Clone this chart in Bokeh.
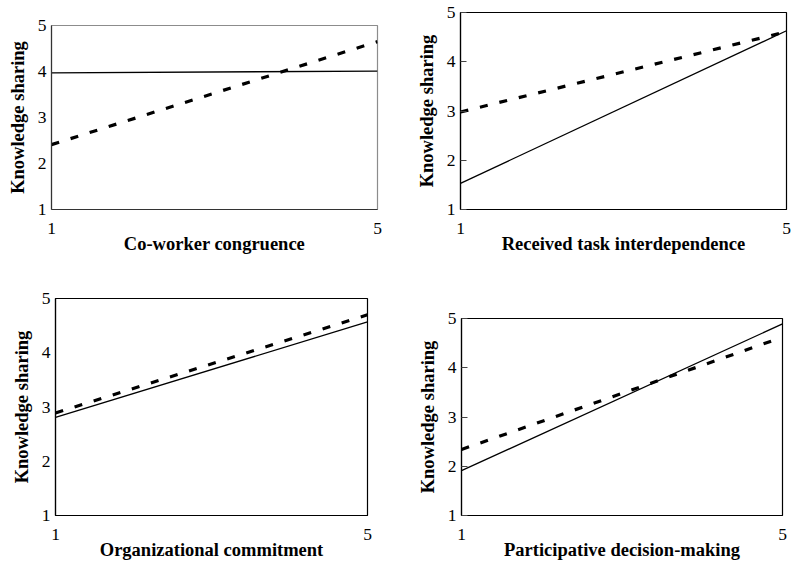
from bokeh.plotting import figure
from bokeh.models import Range1d, FixedTicker
from bokeh.layouts import column, row
from bokeh.embed import file_html
from bokeh.resources import INLINE

# ---- data ----
x_ends = [1, 5]
labels = ["Co-worker congruence", "Received task interdependence",
          "Organizational commitment", "Participative decision-making"]
solid_vals = [
    [3.97, 4.01],
    [1.53, 4.63],
    [2.81, 4.57],
    [1.91, 4.89],
]
dashed_vals = [
    [2.41, 4.65],
    [2.98, 4.61],
    [2.89, 4.70],
    [2.34, 4.62],
]
y_ticks = [1, 2, 3, 4, 5]
x_ticks = [1, 5]

FONT = "Liberation Serif"

# (width, height, left, right, top, bottom) of each panel's figure
geoms = [
    (395, 270, 51, 18, 25, 61),
    (398, 270, 65, 7, 12, 61),
    (395, 292, 55, 28, 28, 41),
    (398, 292, 66, 11, 48, 43),
]
inner_ticks = [False, True, False, True]


def make_panel(i):
    w, h, l, r, t, b = geoms[i]
    p = figure(width=w, height=h, output_backend="svg", toolbar_location=None,
               x_range=Range1d(1, 5), y_range=Range1d(1, 5),
               min_border_left=l, min_border_right=r,
               min_border_top=t, min_border_bottom=b,
               frame_align=False)
    p.grid.visible = False
    p.background_fill_color = "white"
    p.border_fill_color = "white"
    if i == 0:
        p.outline_line_color = "#8c8c8c"
        axis_col = "#333333"
    else:
        p.outline_line_color = "black"
        axis_col = "black"
    p.outline_line_width = 1.2
    p.outline_line_alpha = 1

    p.xaxis.ticker = FixedTicker(ticks=x_ticks)
    p.yaxis.ticker = FixedTicker(ticks=y_ticks)
    for ax in (p.xaxis, p.yaxis):
        ax.axis_line_color = axis_col
        ax.axis_line_width = 1.2
        ax.major_tick_line_color = None
        ax.minor_tick_line_color = None
        ax.major_tick_out = 0
        ax.major_tick_in = 0
        ax.major_label_text_font = FONT
        ax.major_label_text_font_size = "17.5px"
        ax.major_label_text_color = "black"
        ax.axis_label_text_font = FONT
        ax.axis_label_text_font_style = "bold"
        ax.axis_label_text_font_size = "18.5px"
        ax.axis_label_text_color = "black"
    if inner_ticks[i]:
        p.yaxis.major_tick_in = 6
        p.yaxis.major_tick_line_color = "#444444"
        p.yaxis.major_tick_line_width = 1
    p.xaxis.major_label_standoff = 13
    p.xaxis.axis_label_standoff = -3
    p.yaxis.major_label_standoff = 5
    p.yaxis.axis_label_standoff = 7
    p.xaxis.axis_label = labels[i]
    p.yaxis.axis_label = "Knowledge sharing"

    p.line(x_ends, solid_vals[i], line_color="black", line_width=1.3)
    p.line(x_ends, dashed_vals[i], line_color="black", line_width=3.2,
           line_dash="8 12")
    return p


panels = [make_panel(i) for i in range(4)]
layout = column(row(panels[0], panels[1], spacing=0),
                row(panels[2], panels[3], spacing=0), spacing=0)

open("out.html", "w").write(file_html(layout, INLINE))
